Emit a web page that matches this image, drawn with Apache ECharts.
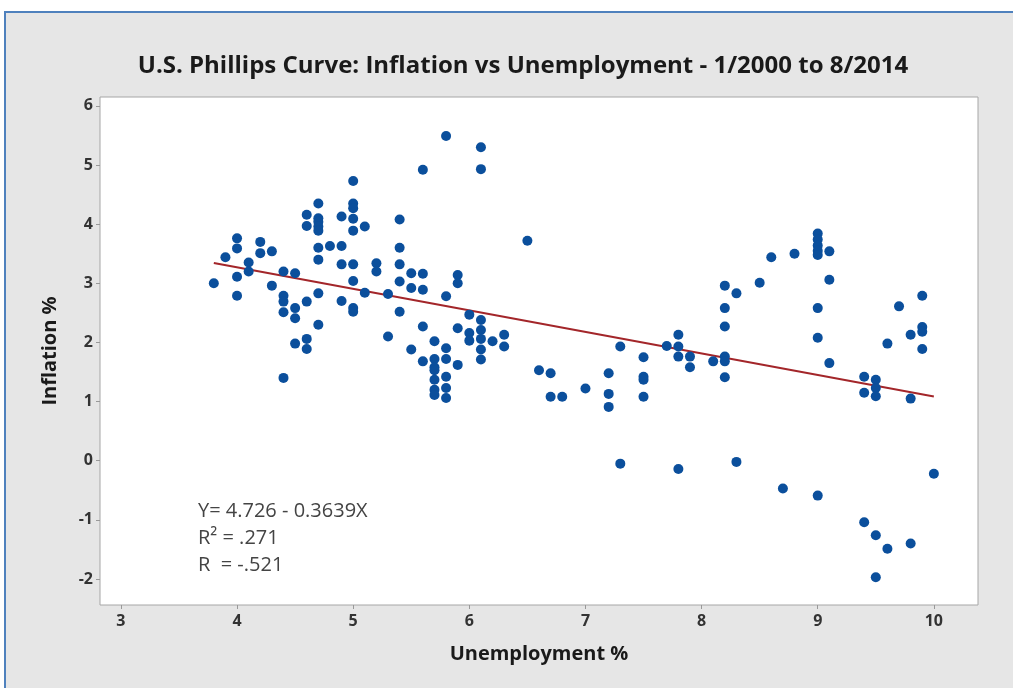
<!DOCTYPE html>
<html>
<head>
<meta charset="utf-8">
<script src="https://cdn.jsdelivr.net/npm/echarts@6/dist/echarts.min.js"></script>
<style>
  html, body { margin: 0; padding: 0; background: #ffffff; }
  #frame {
    position: absolute; left: 4px; top: 11px; width: 1009px; height: 677px;
    background: #e6e6e6; border-left: 2px solid #4f81bd; border-top: 2px solid #4f81bd;
    box-sizing: border-box;
  }
  #chart { position: absolute; left: 0; top: 0; width: 1013px; height: 688px; }
</style>
</head>
<body>
<div id="frame"></div>
<div id="chart"></div>
<script>
// unemployment % (x) and inflation % (y)
const unemployment = [
  3.8, 3.9,
  4.0, 4.0, 4.0, 4.0,
  4.1, 4.1,
  4.2, 4.2,
  4.3, 4.3,
  4.4, 4.4, 4.4, 4.4, 4.4,
  4.5, 4.5, 4.5, 4.5,
  4.6, 4.6, 4.6, 4.6, 4.6,
  4.7, 4.7, 4.7, 4.7, 4.7, 4.7, 4.7, 4.7, 4.7,
  4.8,
  4.9, 4.9, 4.9, 4.9,
  5.0, 5.0, 5.0, 5.0, 5.0, 5.0, 5.0, 5.0, 5.0,
  5.1, 5.1,
  5.2, 5.2,
  5.3, 5.3,
  5.4, 5.4, 5.4, 5.4, 5.4,
  5.5, 5.5, 5.5,
  5.6, 5.6, 5.6, 5.6, 5.6,
  5.7, 5.7, 5.7, 5.7, 5.7, 5.7, 5.7,
  5.8, 5.8, 5.8, 5.8, 5.8, 5.8, 5.8,
  5.9, 5.9, 5.9, 5.9,
  6.0, 6.0, 6.0,
  6.1, 6.1, 6.1, 6.1, 6.1, 6.1, 6.1,
  6.2,
  6.3, 6.3,
  6.5, 6.6,
  6.7, 6.7,
  6.8, 7.0,
  7.2, 7.2, 7.2,
  7.3, 7.3,
  7.5, 7.5, 7.5, 7.5,
  7.7,
  7.8, 7.8, 7.8, 7.8,
  7.9, 7.9,
  8.1,
  8.2, 8.2, 8.2, 8.2, 8.2, 8.2,
  8.3, 8.3,
  8.5, 8.6, 8.7, 8.8,
  9.0, 9.0, 9.0, 9.0, 9.0, 9.0, 9.0, 9.0,
  9.1, 9.1, 9.1,
  9.4, 9.4, 9.4,
  9.5, 9.5, 9.5, 9.5, 9.5,
  9.6, 9.6,
  9.7,
  9.8, 9.8, 9.8,
  9.9, 9.9, 9.9, 9.9,
  10.0
];
const inflation = [
  3.0, 3.44,
  3.76, 3.59, 3.11, 2.79,
  3.35, 3.2,
  3.7, 3.51,
  3.54, 2.96,
  3.2, 2.79, 2.69, 2.51, 1.4,
  3.17, 2.58, 2.41, 1.98,
  4.16, 3.97, 2.69, 2.06, 1.89,
  4.35, 4.1, 4.04, 3.96, 3.89, 3.6, 3.4, 2.83, 2.3,
  3.63,
  4.13, 3.63, 3.32, 2.7,
  4.73, 4.35, 4.27, 4.09, 3.89, 3.32, 3.04, 2.58, 2.52,
  3.96, 2.84,
  3.34, 3.2,
  2.82, 2.1,
  4.08, 3.6, 3.32, 3.03, 2.52,
  3.17, 2.92, 1.88,
  4.92, 3.16, 2.89, 2.27, 1.68,
  2.02, 1.72, 1.58, 1.53, 1.37, 1.2, 1.11,
  5.49, 2.78, 1.9, 1.72, 1.42, 1.23, 1.06,
  3.14, 3.0, 2.24, 1.62,
  2.47, 2.16, 2.03,
  5.3, 4.93, 2.38, 2.21, 2.06, 1.88, 1.71,
  2.02,
  2.13, 1.93,
  3.72, 1.53,
  1.48, 1.08,
  1.08, 1.22,
  1.48, 1.13, 0.91,
  1.93, -0.05,
  1.75, 1.42, 1.37, 1.08,
  1.94,
  2.13, 1.93, 1.76, -0.14,
  1.76, 1.58,
  1.68,
  2.96, 2.58, 2.27, 1.76, 1.68, 1.41,
  2.83, -0.02,
  3.01, 3.44, -0.47, 3.5,
  3.84, 3.74, 3.64, 3.55, 3.48, 2.58, 2.08, -0.59,
  3.54, 3.06, 1.65,
  1.42, 1.15, -1.04,
  1.37, 1.23, 1.09, -1.26, -1.97,
  1.98, -1.49,
  2.61,
  2.13, 1.05, -1.4,
  2.79, 2.26, 2.18, 1.89,
  -0.22
];

// regression fit Y = 4.726 - 0.3639X over the data range
const fitIntercept = 4.726;
const fitSlope = -0.3639;
const fitRange = [3.8, 10.0];

const xTicks = [3, 4, 5, 6, 7, 8, 9, 10];
const yTicks = [-2, -1, 0, 1, 2, 3, 4, 5, 6];

const statLines = ['Y= 4.726 - 0.3639X', 'R\u00b2 = .271', 'R  = -.521'];

const points = unemployment.map((u, i) => [u, inflation[i]]);
const fitLine = fitRange.map(x => [x, fitIntercept + fitSlope * x]);

const chart = echarts.init(document.getElementById('chart'), null, { renderer: 'canvas' });
const font = '"Open Sans", "Noto Sans", sans-serif';

const option = {
  backgroundColor: 'transparent',
  animation: false,
  title: {
    text: 'U.S. Phillips Curve: Inflation vs Unemployment - 1/2000 to 8/2014',
    left: 518, top: 49, textAlign: 'center',
    textStyle: { fontFamily: font, fontSize: 24, fontWeight: 700, color: '#1a1a1a' }
  },
  grid: {
    left: 100, right: 35, top: 97, bottom: 83,
    show: true, backgroundColor: '#ffffff', borderColor: '#a6a6a6', borderWidth: 1
  },
  xAxis: {
    type: 'value', min: 2.82, max: 10.38,
    name: 'Unemployment %', nameLocation: 'middle', nameGap: 39,
    nameTextStyle: { fontFamily: font, fontSize: 20, fontWeight: 700, color: '#1a1a1a' },
    axisLine: { show: false, onZero: false },
    axisTick: { show: true, customValues: xTicks, length: 4, lineStyle: { color: '#999' } },
    axisLabel: { customValues: xTicks, fontFamily: font, fontSize: 16, fontWeight: 700, color: '#333', margin: 8 },
    splitLine: { show: false }
  },
  yAxis: {
    type: 'value', min: -2.44, max: 6.15,
    name: 'Inflation %', nameLocation: 'middle', nameGap: 40, nameRotate: 90,
    nameTextStyle: { fontFamily: font, fontSize: 20, fontWeight: 700, color: '#1a1a1a' },
    axisLine: { show: false, onZero: false },
    axisTick: { show: true, customValues: yTicks, length: 4, lineStyle: { color: '#999' } },
    axisLabel: { customValues: yTicks, fontFamily: font, fontSize: 16, fontWeight: 700, color: '#333', margin: 7 },
    splitLine: { show: false }
  },
  graphic: statLines.map((t, i) => ({
    type: 'text', left: 198, top: 501 + i * 27,
    style: { text: t, fontFamily: font, fontSize: 20, fill: '#444' }
  })),
  series: [
    {
      type: 'scatter', data: points, symbol: 'circle', symbolSize: 10,
      itemStyle: { color: '#0b4f9c', opacity: 1 }, z: 3
    },
    {
      type: 'line', data: fitLine, symbol: 'none',
      lineStyle: { color: '#a3262a', width: 2 }, z: 2
    }
  ]
};

chart.setOption(option);
</script>
</body>
</html>
